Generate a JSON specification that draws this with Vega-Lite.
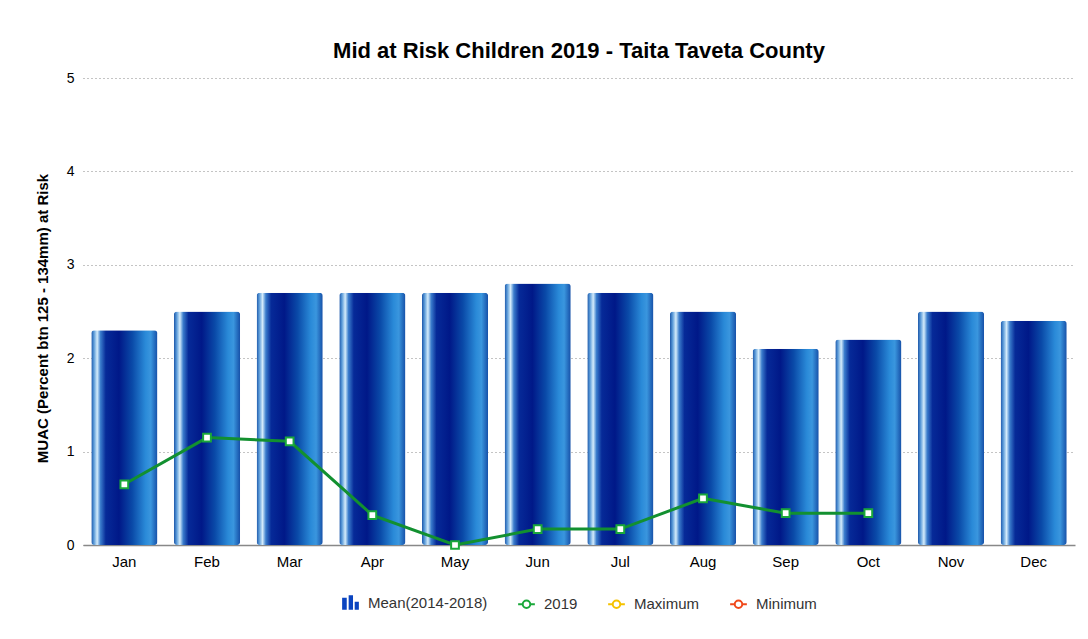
{
  "$schema": "https://vega.github.io/schema/vega-lite/v6.json",
  "autosize": {"type": "none"},
  "width": 992,
  "height": 467,
  "padding": {"left": 83, "top": 78, "right": 13, "bottom": 94},
  "background": "white",
  "title": {
    "text": "Mid at Risk Children 2019 - Taita Taveta County",
    "font": "Liberation Sans",
    "fontSize": 22,
    "fontWeight": "bold",
    "color": "#000000",
    "anchor": "middle",
    "offset": 8
  },
  "datasets": {
    "mean": [
      {"month": "Jan", "value": 2.3},
      {"month": "Feb", "value": 2.5},
      {"month": "Mar", "value": 2.7},
      {"month": "Apr", "value": 2.7},
      {"month": "May", "value": 2.7},
      {"month": "Jun", "value": 2.8},
      {"month": "Jul", "value": 2.7},
      {"month": "Aug", "value": 2.5},
      {"month": "Sep", "value": 2.1},
      {"month": "Oct", "value": 2.2},
      {"month": "Nov", "value": 2.5},
      {"month": "Dec", "value": 2.4}
    ],
    "y2019": [
      {"month": "Jan", "value": 0.65},
      {"month": "Feb", "value": 1.15},
      {"month": "Mar", "value": 1.11},
      {"month": "Apr", "value": 0.32},
      {"month": "May", "value": 0.0},
      {"month": "Jun", "value": 0.17},
      {"month": "Jul", "value": 0.17},
      {"month": "Aug", "value": 0.5},
      {"month": "Sep", "value": 0.34},
      {"month": "Oct", "value": 0.34}
    ],
    "legendRows": [
      {"month": "Jan", "value": null, "series": "Mean(2014-2018)"},
      {"month": "Jan", "value": null, "series": "2019"},
      {"month": "Jan", "value": null, "series": "Maximum"},
      {"month": "Jan", "value": null, "series": "Minimum"}
    ]
  },
  "encoding": {
    "x": {
      "field": "month",
      "type": "nominal",
      "sort": ["Jan","Feb","Mar","Apr","May","Jun","Jul","Aug","Sep","Oct","Nov","Dec"],
      "scale": {"domain": ["Jan","Feb","Mar","Apr","May","Jun","Jul","Aug","Sep","Oct","Nov","Dec"], "paddingInner": 0.2, "paddingOuter": 0.1},
      "axis": {
        "title": null,
        "labelAngle": 0,
        "labelFont": "Liberation Sans",
        "labelFontSize": 15,
        "labelColor": "#000000",
        "labelPadding": 9,
        "ticks": false,
        "domainColor": "#888888",
        "domainWidth": 1.5,
        "grid": false
      }
    },
    "y": {
      "field": "value",
      "type": "quantitative",
      "scale": {"domain": [0, 5], "nice": false},
      "axis": {
        "title": "MUAC (Percent btn 125 - 134mm) at Risk",
        "titleFont": "Liberation Sans",
        "titleFontSize": 15,
        "titleFontWeight": "bold",
        "titleColor": "#000000",
        "titlePadding": 16,
        "titleY": 240,
        "values": [0, 1, 2, 3, 4, 5],
        "labelFont": "Liberation Sans",
        "labelFontSize": 14,
        "labelColor": "#000000",
        "labelPadding": 9,
        "ticks": false,
        "domain": false,
        "grid": true,
        "gridColor": "#888888",
        "gridDash": [1, 3],
        "gridWidth": 1
      }
    }
  },
  "layer": [
    {
      "data": {"name": "mean"},
      "mark": {
        "type": "bar",
        "cornerRadius": 3,
        "color": {
          "gradient": "linear",
          "x1": 0, "y1": 0, "x2": 1, "y2": 0,
          "stops": [
            {"offset": 0, "color": "#1a55a8"},
            {"offset": 0.04, "color": "#5a9ad8"},
            {"offset": 0.09, "color": "#d4ecfb"},
            {"offset": 0.14, "color": "#3a7ccc"},
            {"offset": 0.22, "color": "#062a98"},
            {"offset": 0.42, "color": "#001888"},
            {"offset": 0.62, "color": "#0a4aa8"},
            {"offset": 0.82, "color": "#2a8ad8"},
            {"offset": 0.9, "color": "#3a96de"},
            {"offset": 1, "color": "#1650a8"}
          ]
        }
      }
    },
    {
      "data": {"name": "y2019"},
      "mark": {"type": "line", "color": "#129030", "strokeWidth": 3},
      "encoding": {}
    },
    {
      "data": {"name": "y2019"},
      "mark": {"type": "point", "shape": "square", "filled": false, "fill": "#ffffff", "fillOpacity": 1, "stroke": "#1aa83a", "strokeWidth": 2, "size": 60, "opacity": 1},
      "encoding": {}
    },
    {
      "data": {"name": "legendRows"},
      "mark": {"type": "point", "filled": false, "strokeWidth": 2, "opacity": 1},
      "encoding": {
        "stroke": {
          "field": "series",
          "type": "nominal",
          "scale": {"domain": ["Mean(2014-2018)", "2019", "Maximum", "Minimum"], "range": ["rgba(0,0,0,0)", "#1aa83a", "#f5c200", "#f0481a"]},
          "legend": {"title": null}
        },
        "fill": {
          "field": "series",
          "type": "nominal",
          "scale": {"domain": ["Mean(2014-2018)", "2019", "Maximum", "Minimum"], "range": ["#0a44c0", "#ffffff", "#ffffff", "#ffffff"]},
          "legend": {"title": null}
        },
        "shape": {
          "field": "series",
          "type": "nominal",
          "scale": {"domain": ["Mean(2014-2018)", "2019", "Maximum", "Minimum"], "range": [
            "M-1,0.85V-0.6H-0.45V0.85Z M-0.22,0.85V-0.9H0.3V0.85Z M0.5,0.85V-0.1H1V0.85Z",
            "M-1,0H-0.45 M0.45,0H1 M-0.45,0A0.45,0.45 0 1,0 0.45,0A0.45,0.45 0 1,0 -0.45,0Z",
            "M-1,0H-0.45 M0.45,0H1 M-0.45,0A0.45,0.45 0 1,0 0.45,0A0.45,0.45 0 1,0 -0.45,0Z",
            "M-1,0H-0.45 M0.45,0H1 M-0.45,0A0.45,0.45 0 1,0 0.45,0A0.45,0.45 0 1,0 -0.45,0Z"
          ]},
          "legend": {"title": null}
        }
      }
    }
  ],
  "config": {
    "view": {"stroke": null},
    "legend": {
      "orient": "bottom",
      "direction": "horizontal",
      "layout": {"bottom": {"anchor": "middle"}},
      "labelFont": "Liberation Sans",
      "labelFontSize": 15,
      "labelColor": "#333333",
      "labelOffset": 8,
      "symbolStrokeWidth": 2,
      "symbolSize": 280,
      "symbolOpacity": 1,
      "columnPadding": 26,
      "offset": 24
    }
  }
}
